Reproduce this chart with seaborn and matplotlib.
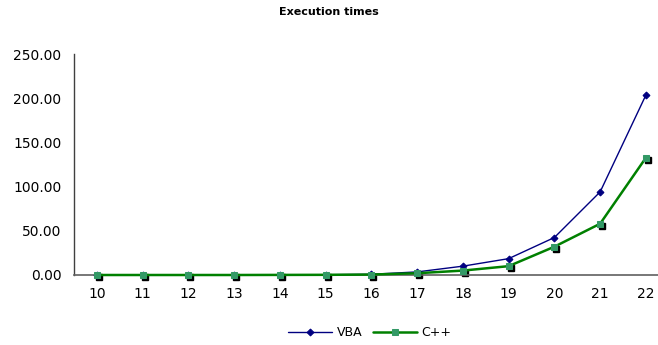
import numpy as np
import pandas as pd
import matplotlib
matplotlib.use("Agg")
import matplotlib.pyplot as plt
import matplotlib.transforms as mtransforms
import seaborn as sns

# chart data
n_values = [10, 11, 12, 13, 14, 15, 16, 17, 18, 19, 20, 21, 22]
vba_times = [0.0, 0.0, 0.0, 0.0, 0.1, 0.3, 0.8, 3.5, 10.0, 18.5, 42.4, 94.0, 203.5]
cpp_times = [0.0, 0.0, 0.0, 0.0, 0.1, 0.2, 0.5, 2.0, 5.0, 10.0, 32.0, 58.0, 132.6]

df = pd.DataFrame({"n": n_values, "VBA": vba_times, "C++": cpp_times})

sns.set_style("white")
plt.rcParams['font.family'] = ['DejaVu Sans']
plt.rcParams['text.color'] = 'black'

fig = plt.figure(figsize=(6.58, 3.45), dpi=100)
ax = fig.add_axes([74 / 658, (345 - 275) / 345, 584 / 658, 221 / 345])

# shadow of the C++ squares
shadow = mtransforms.offset_copy(ax.transData, fig=fig, x=2, y=-2, units='dots')
ax.plot(df["n"], df["C++"], linestyle='none', marker='s', markersize=4.5,
        color='black', transform=shadow, clip_on=False, zorder=2)

sns.lineplot(data=df, x="n", y="VBA", ax=ax, color='#000080', linewidth=1,
             marker='D', markersize=3.5, markeredgecolor='#000080', label='VBA',
             clip_on=False, zorder=3)
sns.lineplot(data=df, x="n", y="C++", ax=ax, color='#008000', linewidth=1.8,
             marker='s', markersize=4.5, markerfacecolor='#339966',
             markeredgecolor='#339966', label='C++', clip_on=False, zorder=4)

ax.set_xlim(9.5, 9.5 + 584 / 45.75)
ax.set_ylim(0, 250)
ax.set_xticks(n_values)
ax.set_yticks([0, 50, 100, 150, 200, 250])
ax.set_yticklabels([f"{v:.2f}" for v in [0, 50, 100, 150, 200, 250]])
ax.tick_params(axis='both', length=0, labelsize=10, colors='black')
ax.tick_params(axis='x', pad=9)
ax.tick_params(axis='y', pad=9)
ax.set_xlabel("")
ax.set_ylabel("")

for side in ['top', 'right']:
    ax.spines[side].set_visible(False)
ax.spines['left'].set_color('#404040')
ax.spines['bottom'].set_color('#606060')
ax.spines['left'].set_linewidth(1)
ax.spines['bottom'].set_linewidth(1.2)

fig.text(0.5, 1 - 12 / 345, "Execution times", ha='center', va='center',
         fontsize=8, fontweight='bold', color='black')

leg = ax.legend(loc='center', bbox_to_anchor=(370 / 658, 1 - 333 / 345),
                bbox_transform=fig.transFigure, ncol=2, frameon=False,
                fontsize=9, handlelength=3.5, columnspacing=0.8, handletextpad=0.4)

fig.savefig("out.png", dpi=100)
